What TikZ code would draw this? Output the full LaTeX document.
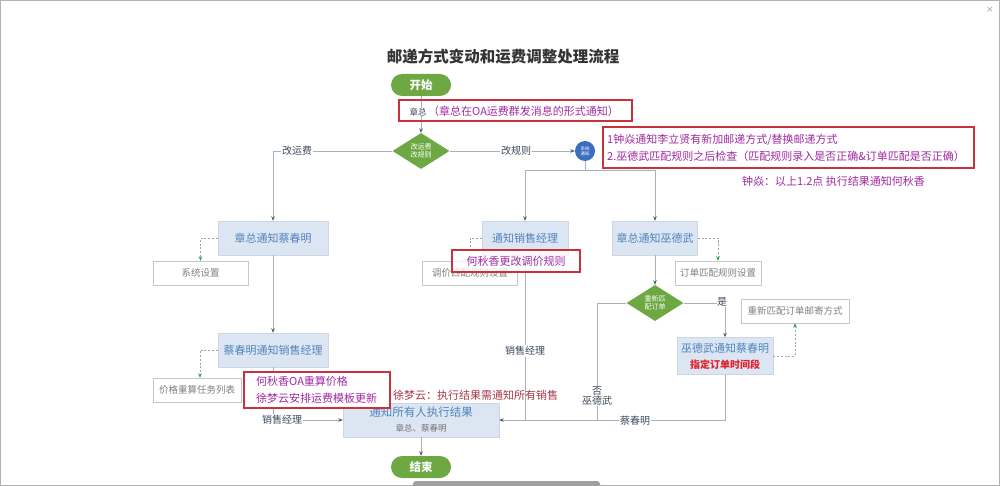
\documentclass[tikz,border=0pt]{standalone}
\usepackage{fontspec}
\setmainfont{Noto Sans CJK SC}
\newfontfamily\dejavu{DejaVu Sans}
\usetikzlibrary{shapes.geometric,arrows.meta}
\definecolor{fgreen}{HTML}{6DA843}
\definecolor{boxfill}{HTML}{DCE6F2}
\definecolor{boxtext}{HTML}{5083C0}
\definecolor{lineg}{HTML}{A8B0BA}
\definecolor{arr}{HTML}{4A5A70}
\definecolor{redb}{HTML}{C8323C}
\definecolor{purp}{HTML}{A02AA0}
\definecolor{graytext}{HTML}{808080}
\definecolor{grayb}{HTML}{C8C8C8}
\definecolor{circblue}{HTML}{3A6EC0}
\definecolor{maroonc}{HTML}{A53A48}
\definecolor{redt}{HTML}{E0202A}
\definecolor{lbl}{HTML}{3C4A5C}
\definecolor{dashg}{HTML}{9AA8A0}
\tikzset{
  pill/.style={rounded corners=11pt, fill=fgreen, text=white, minimum width=60pt, minimum height=22pt, inner sep=0pt, font=\fontsize{11.5}{12}\selectfont\bfseries},
  bluebox/.style={fill=boxfill, draw=boxfill!85!gray, text=boxtext, inner sep=0pt, align=center, font=\fontsize{11}{16}\selectfont},
  graybox/.style={draw=grayb, fill=white, text=graytext, inner sep=0pt, minimum height=24pt, font=\fontsize{9.5}{11}\selectfont},
  dia/.style={diamond, fill=fgreen, text=white, inner sep=0pt, align=center, font=\fontsize{7}{8.5}\selectfont},
  redbox/.style={draw=redb, line width=1.4pt, inner sep=0pt},
  conn/.style={draw=lineg, line width=0.8pt},
  arrow/.style={conn, -{Stealth[length=4.5pt,width=3.5pt,color=arr]}},
  dconn/.style={draw=dashg, line width=0.7pt, dash pattern=on 2pt off 1.8pt, -{Stealth[length=4.5pt,width=3.5pt,color=arr!60!green]}},
  lab/.style={fill=white, text=lbl, inner sep=1pt, align=center, font=\fontsize{10}{12}\selectfont},
  note/.style={text=purp, inner sep=0pt, font=\fontsize{11}{17}\selectfont}
}
\begin{document}
\begin{tikzpicture}[x=1pt,y=-1pt]
\useasboundingbox (0,0) rectangle (1000,486);
\fill[white] (0,0) rectangle (1000,486);
\draw[gray!60, line width=1pt] (0.5,0.5) rectangle (999.5,485.5);
\node[text=gray!70, font=\dejavu\fontsize{9}{10}\selectfont] (close) at (990,10) {×};
\fill[gray!75, rounded corners=3pt] (413,481) rectangle (600,492);

% title
\node[font=\fontsize{15.5}{17}\selectfont\bfseries, text=black!80] (title) at (503,57) {邮递方式变动和运费调整处理流程};

% main nodes
\node[pill] (start) at (421,85) {开始};
\node[dia, minimum width=57pt, minimum height=33pt] (d1) at (421,151) {改运费\\改规则};
\node[circle, fill=circblue, text=white, minimum size=20pt, inner sep=0pt, align=center, font=\fontsize{4.5}{5}\selectfont] (circ) at (585,151) {系统\\通知};

\node[bluebox, minimum width=110pt, minimum height=34pt] (b1) at (273,238) {章总通知蔡春明};
\node[graybox, minimum width=95pt] (g1) at (200.5,273) {系统设置};
\node[bluebox, minimum width=110pt, minimum height=34pt] (b2) at (273,350) {蔡春明通知销售经理};
\node[graybox, minimum width=88pt] (g2) at (197,390) {价格重算任务列表};

\node[bluebox, minimum width=86pt, minimum height=34pt] (b3) at (525,238) {通知销售经理};
\node[graybox, minimum width=95pt] (g3) at (470,273) {调价匹配规则设置};

\node[bluebox, minimum width=85pt, minimum height=34pt] (b4) at (655,238) {章总通知巫德武};
\node[graybox, minimum width=86pt] (g4) at (718,273) {订单匹配规则设置};
\node[dia, minimum width=57pt, minimum height=36pt] (d2) at (655,303) {重新匹\\配订单};
\node[graybox, minimum width=108pt] (g5) at (795,311) {重新匹配订单邮寄方式};
\node[bluebox, minimum width=96pt, minimum height=37pt] (b5) at (725,356) {巫德武通知蔡春明\\{\fontsize{10}{12}\selectfont\bfseries\color{redt}指定订单时间段}};

\node[bluebox, minimum width=156pt, minimum height=34pt, font=\fontsize{11.5}{15}\selectfont] (b6) at (421,420) {通知所有人执行结果\\{\fontsize{8.5}{10}\selectfont\color{graytext!90!black}章总、蔡春明}};
\node[pill] (end) at (421,467) {结束};

% helper coordinates
\coordinate (split) at (585,170);
\coordinate (nox) at (597,0);
\coordinate (dx1) at (200.5,0);
\coordinate (dx2) at (200,0);

% connectors
\draw[arrow] (start) -- (d1);
\draw[arrow] (d1.west) -| (b1.north);
\draw[arrow] (d1.east) -- (circ.west);
\draw[conn] (circ.south) -- (split);
\draw[arrow] (split) -| (b3.north);
\draw[arrow] (split) -| (b4.north);
\draw[arrow] (b1) -- (b2);
\draw[dconn] (b1.west) -| (dx1 |- g1.north);
\draw[dconn] (b2.west) -| (dx2 |- g2.north);
\draw[dconn] (b3.west) -| (g3.north);
\draw[dconn] (b4.east) -| (g4.north);
\draw[dconn] (b5.east) -| (g5.south);
\draw[arrow] (b4) -- (d2);
\draw[arrow] (d2.east) -| (b5.north);
\draw[conn] (d2.west) -| (nox |- b6.east);
\draw[conn] (b3.south) -- (b3.south |- b6.east);
\draw[arrow] (b5.south) |- (b6.east);
\draw[arrow] (b2.south) |- (b6.west);
\draw[arrow] (b6) -- (end);

% connector labels
\node[lab] (l1) at (297,151) {改运费};
\node[lab] (l2) at (516,151) {改规则};
\node[lab] (l3) at (525,351) {销售经理};
\node[lab] (l4) at (282,420) {销售经理};
\node[lab, inner sep=0.5pt] (l5) at (597,396) {否\\[-2pt]巫德武};
\node[lab] (l6) at (635,421) {蔡春明};
\node[lab, inner sep=0.5pt] (l7) at (722,302) {是};
\node[lab, font=\fontsize{8.5}{9}\selectfont, inner sep=0.5pt] (l0) at (418,112) {章总};

% annotations
\node[redbox, minimum width=233pt, minimum height=21pt] (r1) at (515.5,110.5) {};
\node[note, anchor=west] (n1) at (428,111) {（章总在OA运费群发消息的形式通知）};
\node[redbox, minimum width=371pt, minimum height=41pt] (r2) at (788.5,147.5) {};
\node[note, anchor=west, align=left] (n2) at (607,147.5) {1钟焱通知李立贤有新加邮递方式/替换邮递方式\\2.巫德武匹配规则之后检查（匹配规则录入是否正确\&订单匹配是否正确）};
\node[note, anchor=west] (n3) at (742,181) {钟焱：以上1.2点 执行结果通知何秋香};
\node[redbox, fill=white, fill opacity=0.75, text opacity=1, minimum width=128pt, minimum height=22pt, text=purp, font=\fontsize{11}{13}\selectfont] (r3) at (516,261) {何秋香更改调价规则};
\node[redbox, fill=white, minimum width=146pt, minimum height=36pt] (r4) at (317,390) {};
\node[note, anchor=west, align=left] (n4) at (256,390) {何秋香OA重算价格\\徐梦云安排运费模板更新};
\node[note, text=maroonc, anchor=west] (n5) at (393,395) {徐梦云：执行结果需通知所有销售};
\end{tikzpicture}
\end{document}
